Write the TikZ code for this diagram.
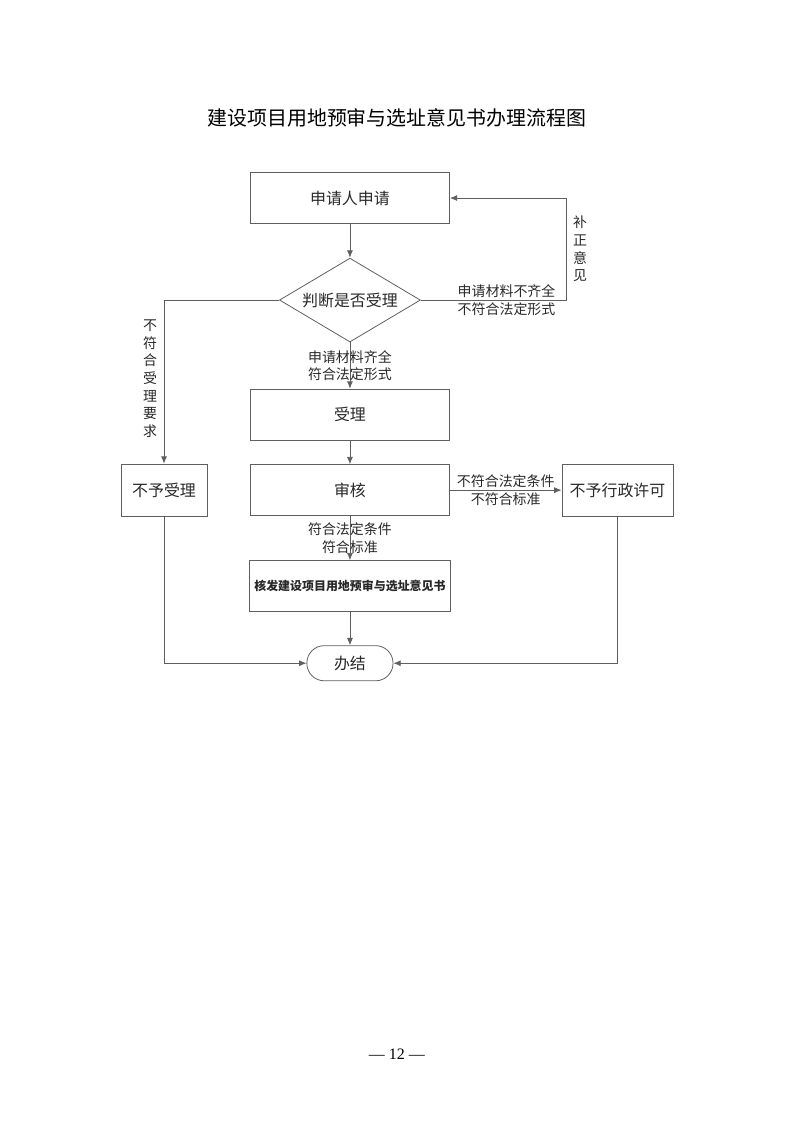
\documentclass[tikz,border=0pt]{standalone}
\usepackage{fontspec}
\setmainfont{Noto Sans CJK SC}
\newfontfamily\pagenumfont{Liberation Serif}
\usetikzlibrary{shapes.geometric, arrows.meta}
\definecolor{linegray}{RGB}{95,95,95}
\definecolor{txtgray}{RGB}{40,40,40}
\tikzstyle{block} = [rectangle, minimum width=5.27cm, minimum height=1.35cm, text centered, draw=linegray, line width=0.6pt, text=txtgray, font=\fontsize{12}{14}\selectfont]
\tikzstyle{sideblock} = [block, minimum width=2.28cm, minimum height=1.38cm]
\tikzstyle{decision} = [diamond, aspect=1.68, minimum width=3.73cm, minimum height=2.22cm, inner sep=0pt, text centered, draw=linegray, line width=0.6pt, text=txtgray, font=\fontsize{12}{14}\selectfont]
\tikzstyle{terminal} = [rectangle, rounded corners=0.46cm, minimum width=2.28cm, minimum height=0.93cm, text centered, draw=linegray, line width=0.6pt, text=txtgray, font=\fontsize{12}{14}\selectfont]
\tikzstyle{arrow} = [line width=0.6pt, draw=linegray, ->, >={Latex[length=5.5pt,width=4.5pt]}]
\tikzstyle{note} = [align=center, inner sep=1pt, text=txtgray, font=\fontsize{10.5}{13.3}\selectfont]

\begin{document}
\begin{tikzpicture}
\useasboundingbox (0,0) rectangle (20.98,-29.69);

\node (title) at (10.50,-3.12) {\fontsize{15}{18}\selectfont 建设项目用地预审与选址意见书办理流程图};

\node (ask) [block] at (9.26,-5.24) {申请人申请};
\node (judge) [decision, below of=ask, node distance=2.70cm] {判断是否受理};
\node (accept) [block, below of=judge, node distance=3.03cm] {受理};
\node (review) [block, below of=accept, node distance=2.00cm] {审核};
\node (issue) [block, below of=review, node distance=2.54cm, font=\fontsize{9}{11}\selectfont\bfseries] {核发建设项目用地预审与选址意见书};
\node (done) [terminal, below of=issue, node distance=2.04cm] {办结};
\node (reject) [sideblock, left of=review, node distance=4.92cm] {不予受理};
\node (deny) [sideblock, right of=review, node distance=7.08cm, minimum width=2.94cm] {不予行政许可};
\coordinate [right of=judge, node distance=5.72cm] (fixpt);

\node (pagenum) at (10.50,-27.89) {\pagenumfont\fontsize{12}{14}\selectfont — 12 —};

\draw [arrow] (ask) -- (judge);
\draw [arrow] (judge.east) -- node[note, pos=0.59] {申请材料不齐全\\不符合法定形式} (fixpt) |- node[note, pos=0.25, right=4pt] {补\\正\\意\\见} (ask.east);
\draw [arrow] (judge.west) -| node[note, pos=0.74, left=4pt] {不\\符\\合\\受\\理\\要\\求} (reject.north);
\draw [arrow] (judge.south) -- node[note] {申请材料齐全\\符合法定形式} (accept.north);
\draw [arrow] (accept) -- (review);
\draw [arrow] (review.east) -- node[note] {不符合法定条件\\不符合标准} (deny.west);
\draw [arrow] (review.south) -- node[note] {符合法定条件\\符合标准} (issue.north);
\draw [arrow] (issue) -- (done);
\draw [arrow] (reject.south) |- (done.west);
\draw [arrow] (deny.south) |- (done.east);
\end{tikzpicture}
\end{document}
